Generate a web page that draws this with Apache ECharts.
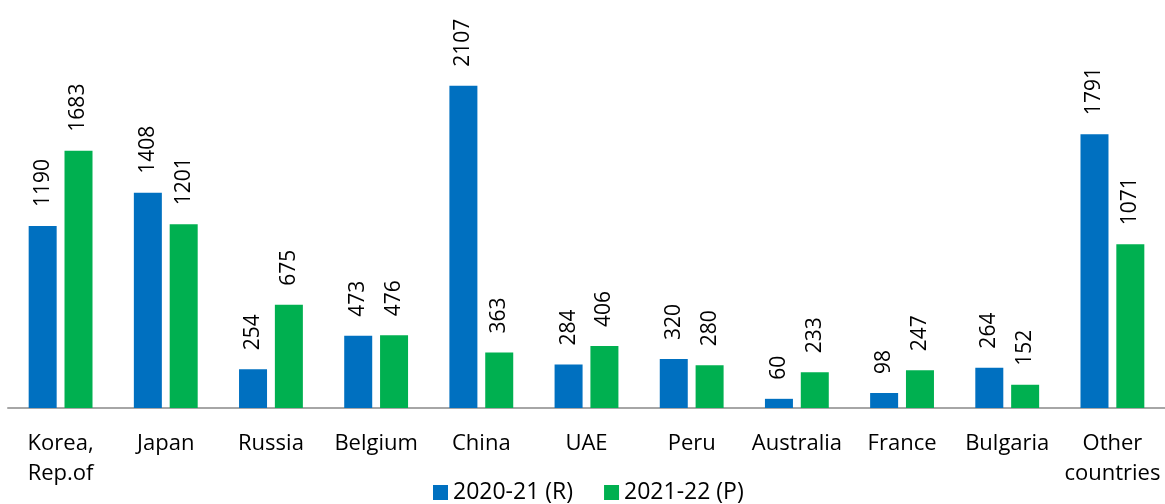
<!DOCTYPE html>
<html>
<head>
<meta charset="utf-8">
<script src="https://cdn.jsdelivr.net/npm/echarts@6/dist/echarts.min.js"></script>
<style>
  html, body { margin: 0; padding: 0; background: #fff; }
</style>
</head>
<body>
<div id="chart" style="width:1165px;height:504px"></div>
<script>
const countries = ['Korea,\nRep.of', 'Japan', 'Russia', 'Belgium', 'China', 'UAE', 'Peru', 'Australia', 'France', 'Bulgaria', 'Other\ncountries']
const y2020 = [1190, 1408, 254, 473, 2107, 284, 320, 60, 98, 264, 1791]
const y2021 = [1683, 1201, 675, 476, 363, 406, 280, 233, 247, 152, 1071]

let myChart = echarts.init(document.getElementById('chart'))
let font = '"Open Sans", "Noto Sans", sans-serif'
let barLabel = {
  show: true,
  position: 'top',
  rotate: 90,
  align: 'left',
  verticalAlign: 'middle',
  distance: 19,
  color: '#000',
  fontSize: 21,
  fontFamily: font
}
let option = {
  animation: false,
  legend: {
    bottom: 0,
    left: 433,
    padding: 0,
    itemWidth: 15,
    itemHeight: 15,
    itemGap: 31,
    icon: 'rect',
    textStyle: { fontSize: 23, color: '#000', fontFamily: font },
    data: ['2020-21 (R)', '2021-22 (P)']
  },
  grid: { left: 8, right: 0, top: 41, bottom: 96 },
  xAxis: {
    type: 'category',
    data: countries,
    axisLine: { lineStyle: { color: '#a6a6a6', width: 2 } },
    axisTick: { show: false },
    axisLabel: {
      interval: 0,
      margin: 21,
      fontSize: 22,
      lineHeight: 30,
      color: '#000',
      fontFamily: font
    }
  },
  yAxis: {
    type: 'value',
    min: 0,
    max: 2400,
    show: false,
    splitLine: { show: false }
  },
  series: [
    {
      name: '2020-21 (R)',
      type: 'bar',
      barWidth: 28,
      barGap: '28%',
      itemStyle: { color: '#0070c0' },
      label: barLabel,
      data: y2020
    },
    {
      name: '2021-22 (P)',
      type: 'bar',
      barWidth: 28,
      itemStyle: { color: '#00b050' },
      label: barLabel,
      data: y2021
    }
  ]
}
myChart.setOption(option)
</script>
</body>
</html>
